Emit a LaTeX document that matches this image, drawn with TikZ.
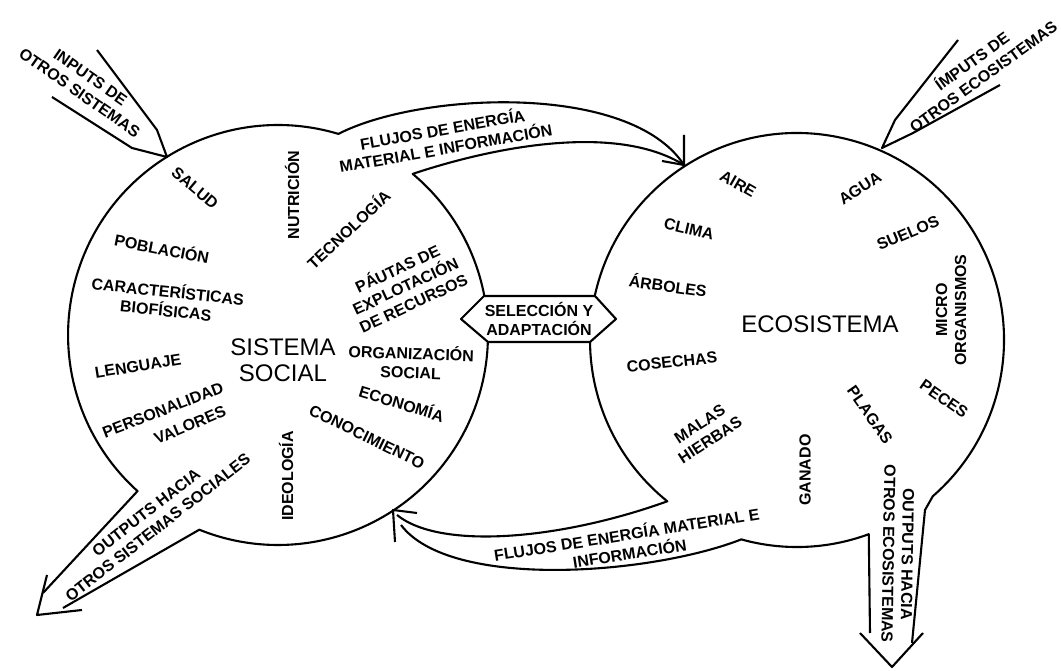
\documentclass[tikz,border=0pt]{standalone}
\usepackage{fontspec}
\setmainfont{Liberation Sans}
\begin{document}
\begin{tikzpicture}[x=1pt,y=1pt,line width=2.1pt,line join=round,
    lbl/.style={font=\fontsize{16}{19}\selectfont\bfseries,align=center,inner sep=0pt},
    titulo/.style={font=\fontsize{24}{26}\selectfont,align=center,inner sep=0pt}]
    \path[use as bounding box] (0,0) rectangle (1061,670);
    \coordinate (c1) at (278,335);
    \coordinate (c2) at (797,330);
    % seleccion y adaptacion
    \draw (484,374) -- (595,374) -- (616,351) -- (590,328) -- (488,328) -- (461,351) -- cycle;
    \node[lbl] (sel) at (539,351) {SELECCIÓN Y\\ADAPTACIÓN};
    % sistema social
    \draw (684,505) .. controls (630,588) and (420,578) .. (338.4,536.1)
        arc[start angle=73.3, end angle=228, radius=210pt] -- (43,77);
    \draw (63,62) -- (199.3,140.3) arc[start angle=-112, end angle=-1.9, radius=210pt];
    \draw (c1) ++(10.8:210) arc[start angle=10.8, end angle=50.1, radius=210pt]
        .. controls (490,522) and (615,548) .. (684,505);
    \draw (684,535) -- (684,505) -- (662,509);
    % ecosistema
    \draw (c2) ++(167.7:207) arc[start angle=167.7, end angle=-49, radius=207pt] -- (925,160) -- (912,27);
    \draw (401,145) .. controls (450,80) and (650,95) .. (741.3,130.6)
        arc[start angle=-105.6, end angle=-69.7, radius=207pt] -- (870,37);
    \draw (397,155) .. controls (440,120) and (560,130) .. (667.3,168.7)
        arc[start angle=-128.8, end angle=-179.45, radius=207pt];
    \draw (417,157) -- (393,160) -- (395,128);
    % inputs y outputs
    \draw (97,620) -- (157,540) -- (167,513) -- (132,522) -- (52,573);
    \draw (958,630) -- (895,550) -- (882,522) -- (913,537) -- (1000,585);
    \draw (47,95) -- (37,55) -- (82,60);
    \draw (860,37) -- (892,3) -- (923,37);
    % textos
    \node[lbl, rotate=-35] (inL) at (85,585) {INPUTS DE\\OTROS SISTEMAS};
    \node[lbl, rotate=36] (inR) at (977,602) {ÍMPUTS DE\\OTROS ECOSISTEMAS};
    \node[lbl, rotate=10] (flujoA) at (444,532) {FLUJOS DE ENERGÍA\\MATERIAL E INFORMACIÓN};
    \node[lbl, rotate=9] (flujoB) at (628,127) {FLUJOS DE ENERGÍA MATERIAL E\\INFORMACIÓN};
    \node[lbl, rotate=38] (outL) at (152,150) {OUTPUTS HACIA\\OTROS SISTEMAS SOCIALES};
    \node[lbl, rotate=-91] (outR) at (898,116) {OUTPUTS HACIA\\OTROS ECOSISTEMAS};
    \node[titulo] (social) at (283,310) {SISTEMA\\SOCIAL};
    \node[titulo] (eco) at (820,346) {ECOSISTEMA};
    \node[lbl, rotate=-40] (salud) at (195,482) {SALUD};
    \node[lbl, rotate=90] (nutricion) at (292,475) {NUTRICIÓN};
    \node[lbl, rotate=43] (tecnologia) at (348,441) {TECNOLOGÍA};
    \node[lbl, rotate=-11] (poblacion) at (162,422) {POBLACIÓN};
    \node[lbl, rotate=-6] (caract) at (167,370) {CARACTERÍSTICAS\\BIOFÍSICAS};
    \node[lbl, rotate=9] (lenguaje) at (138,304) {LENGUAJE};
    \node[lbl, rotate=21] (personalidad) at (163,260) {PERSONALIDAD};
    \node[lbl, rotate=23] (valores) at (190,245) {VALORES};
    \node[lbl, rotate=90] (ideologia) at (286,194) {IDEOLOGÍA};
    \node[lbl, rotate=-26] (conocimiento) at (367,233) {CONOCIMIENTO};
    \node[lbl, rotate=-17] (economia) at (402,267) {ECONOMÍA};
    \node[lbl, rotate=-2] (organizacion) at (411,308) {ORGANIZACIÓN\\SOCIAL};
    \node[lbl, rotate=25] (pautas) at (405,385) {PÁUTAS DE\\EXPLOTACIÓN\\DE RECURSOS};
    \node[lbl, rotate=-30] (aire) at (738,486) {AIRE};
    \node[lbl, rotate=33] (agua) at (860,482) {AGUA};
    \node[lbl, rotate=-13] (clima) at (689,441) {CLIMA};
    \node[lbl, rotate=23] (suelos) at (908,437) {SUELOS};
    \node[lbl, rotate=-8] (arboles) at (668,385) {ÁRBOLES};
    \node[lbl, rotate=90] (micro) at (951,360) {MICRO\\ORGANISMOS};
    \node[lbl, rotate=6] (cosechas) at (672,308) {COSECHAS};
    \node[lbl, rotate=-35] (peces) at (944,271) {PECES};
    \node[lbl, rotate=-55] (plagas) at (870,255) {PLAGAS};
    \node[lbl, rotate=33] (malas) at (705,238) {MALAS\\HIERBAS};
    \node[lbl, rotate=90] (ganado) at (805,200) {GANADO};
\end{tikzpicture}
\end{document}
